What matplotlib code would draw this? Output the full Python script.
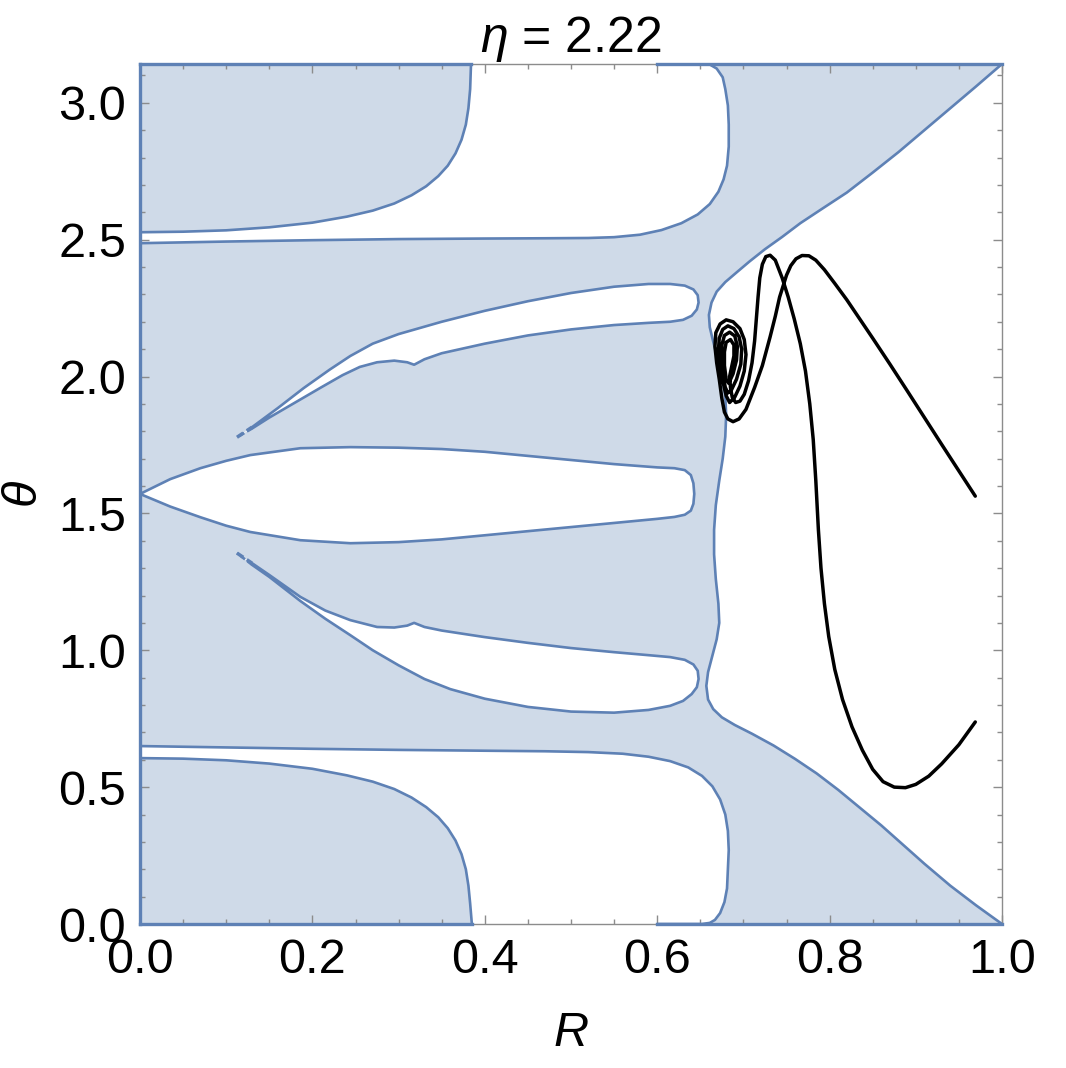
import numpy as np
import matplotlib
matplotlib.use("Agg")
import matplotlib.pyplot as plt

plt.rcParams["font.family"] = ["Liberation Sans", "DejaVu Sans"]
plt.rcParams["mathtext.fontset"] = "custom"
plt.rcParams["mathtext.rm"] = "Liberation Sans"
plt.rcParams["mathtext.it"] = "Liberation Sans:italic"

# --- region boundaries (R, theta) ---
# white band / pocket at the top
top_band_R = [0.0, 0.1, 0.2, 0.3, 0.4, 0.47, 0.52, 0.55, 0.58, 0.605, 0.628, 0.647, 0.661, 0.671, 0.677,
              0.681, 0.683, 0.683, 0.682, 0.679, 0.676, 0.669, 0.66]
top_band_T = [2.487, 2.493, 2.498, 2.502, 2.504, 2.505, 2.506, 2.509, 2.518, 2.535, 2.56, 2.592, 2.63, 2.675, 2.72,
              2.77, 2.84, 2.92, 2.99, 3.05, 3.093, 3.125, 3.1416]
top_corner_R = [0.0, 0.05, 0.10, 0.15, 0.20, 0.24, 0.27, 0.295, 0.315, 0.332, 0.346, 0.357, 0.366, 0.373, 0.378,
                0.381, 0.383, 0.384]
top_corner_T = [2.527, 2.529, 2.534, 2.545, 2.562, 2.584, 2.606, 2.632, 2.662, 2.695, 2.732, 2.77, 2.815, 2.865, 2.92,
                2.98, 3.05, 3.1416]

# white band / pocket at the bottom
bot_band_R = [0.0, 0.1, 0.2, 0.3, 0.4, 0.47, 0.52, 0.56, 0.59, 0.615, 0.636, 0.652, 0.664, 0.673, 0.679,
              0.682, 0.683, 0.682, 0.681, 0.678, 0.673, 0.667, 0.661, 0.652, 0.6]
bot_band_T = [0.650, 0.645, 0.640, 0.636, 0.633, 0.631, 0.628, 0.622, 0.611, 0.595, 0.572, 0.541, 0.503, 0.455, 0.40,
              0.34, 0.27, 0.20, 0.13, 0.08, 0.04, 0.015, 0.004, 0.0, 0.0]
bot_corner_R = [0.0, 0.05, 0.10, 0.15, 0.20, 0.24, 0.27, 0.295, 0.315, 0.332, 0.346, 0.357, 0.366, 0.373, 0.378,
                0.381, 0.383, 0.385]
bot_corner_T = [0.606, 0.604, 0.598, 0.586, 0.567, 0.543, 0.52, 0.493, 0.462, 0.427, 0.39, 0.35, 0.305, 0.255, 0.20,
                0.14, 0.075, 0.0]

# upper lens (closed loop, starts and ends at the left tip)
up_lens_R = [0.1125, 0.13, 0.16, 0.19, 0.22, 0.244, 0.27, 0.30, 0.35, 0.40, 0.45, 0.50, 0.55, 0.59, 0.615, 0.632,
             0.642, 0.647, 0.648, 0.646, 0.64, 0.63, 0.615,
             0.59, 0.55, 0.50, 0.45, 0.40, 0.35, 0.33, 0.318, 0.31, 0.295, 0.275, 0.255, 0.235, 0.21, 0.18, 0.15,
             0.13, 0.1125]
up_lens_T = [1.778, 1.815, 1.885, 1.958, 2.025, 2.075, 2.12, 2.155, 2.20, 2.24, 2.275, 2.305, 2.328, 2.338, 2.338, 2.332,
             2.318, 2.297, 2.27, 2.245, 2.222, 2.207, 2.20,
             2.196, 2.188, 2.172, 2.15, 2.12, 2.085, 2.063, 2.043, 2.052, 2.058, 2.052, 2.035, 2.005, 1.96, 1.905,
             1.85, 1.81, 1.778]

# centre lens (closed loop)
mid_lens_R = [0.0, 0.035, 0.07, 0.10, 0.128, 0.186, 0.244, 0.30, 0.35, 0.40, 0.45, 0.50, 0.55, 0.60, 0.62, 0.632,
              0.639, 0.642, 0.643, 0.642, 0.639, 0.632, 0.62, 0.60, 0.55, 0.50, 0.45, 0.40, 0.35, 0.30, 0.244,
              0.186, 0.128, 0.10, 0.07, 0.035, 0.0]
mid_lens_T = [1.571, 1.625, 1.665, 1.692, 1.713, 1.738, 1.742, 1.740, 1.735, 1.725, 1.710, 1.695, 1.680, 1.668, 1.665,
              1.658, 1.64, 1.61, 1.571, 1.535, 1.51, 1.495, 1.487, 1.480, 1.465, 1.450, 1.435, 1.420, 1.405, 1.395,
              1.391, 1.402, 1.432, 1.455, 1.486, 1.525, 1.571]

# lower lens (closed loop, starts and ends at the left tip)
lo_lens_R = [0.1125, 0.13, 0.15, 0.186, 0.215, 0.244, 0.275, 0.295, 0.31, 0.318, 0.33, 0.35, 0.40, 0.45, 0.50, 0.55,
             0.59, 0.615, 0.632, 0.642, 0.647, 0.648, 0.646, 0.64, 0.63, 0.615,
             0.59, 0.55, 0.50, 0.45, 0.40, 0.36, 0.33, 0.30, 0.27, 0.244, 0.215, 0.186, 0.15, 0.13, 0.1125]
lo_lens_T = [1.355, 1.318, 1.275, 1.195, 1.145, 1.11, 1.085, 1.083, 1.09, 1.10, 1.085, 1.072, 1.048, 1.027, 1.008, 0.993,
             0.982, 0.975, 0.965, 0.948, 0.925, 0.895, 0.865, 0.84, 0.815, 0.797,
             0.782, 0.772, 0.776, 0.793, 0.823, 0.858, 0.895, 0.945, 1.0, 1.055, 1.115, 1.18, 1.268, 1.312, 1.355]

# right hand white region: boundary from (1, pi) to (1, 0)
right_R = [1.0, 0.97, 0.94, 0.91, 0.88, 0.85, 0.82, 0.79, 0.766, 0.745, 0.725, 0.707, 0.692, 0.679, 0.669, 0.663,
           0.66, 0.661, 0.664, 0.668, 0.672, 0.676, 0.679, 0.68, 0.679, 0.676, 0.672, 0.668, 0.666, 0.666, 0.668,
           0.671, 0.672, 0.669, 0.664, 0.659, 0.657, 0.659, 0.665, 0.675, 0.69, 0.71, 0.735, 0.76, 0.785, 0.81,
           0.835, 0.86, 0.885, 0.91, 0.94, 0.97, 1.0]
right_T = [3.1416, 3.06, 2.98, 2.90, 2.82, 2.745, 2.672, 2.61, 2.56, 2.51, 2.465, 2.42, 2.38, 2.345, 2.31, 2.27,
           2.225, 2.18, 2.14, 2.09, 2.04, 1.99, 1.93, 1.86, 1.78, 1.70, 1.62, 1.53, 1.44, 1.35, 1.26,
           1.17, 1.10, 1.04, 0.98, 0.92, 0.87, 0.82, 0.785, 0.755, 0.727, 0.695, 0.652, 0.603, 0.55, 0.49,
           0.425, 0.36, 0.29, 0.22, 0.14, 0.068, 0.0]

# trajectory: right arch -> spiral by the wall -> left arch -> trough
traj_R = [0.969, 0.95, 0.93, 0.91, 0.89, 0.87, 0.85, 0.835, 0.82, 0.806, 0.794, 0.784, 0.776, 0.768, 0.761,
          0.755, 0.75, 0.746, 0.742, 0.737, 0.731, 0.722, 0.713, 0.703, 0.695, 0.688, 0.682, 0.678,
          0.675, 0.672, 0.669, 0.667, 0.668, 0.673, 0.68, 0.688, 0.696, 0.701, 0.703, 0.701, 0.696, 0.69, 0.684,
          0.68, 0.676, 0.673, 0.671, 0.672, 0.676, 0.682, 0.689, 0.695, 0.698, 0.697, 0.692, 0.686, 0.682,
          0.679, 0.676, 0.674, 0.675, 0.678, 0.684, 0.69, 0.693, 0.692, 0.688, 0.683,
          0.68, 0.678, 0.678, 0.68, 0.685, 0.689, 0.689, 0.686, 0.684,
          0.685, 0.687, 0.691, 0.696, 0.701, 0.706, 0.71, 0.713, 0.715, 0.717, 0.719, 0.722, 0.726, 0.731, 0.737,
          0.745, 0.752, 0.759, 0.766, 0.772, 0.777, 0.781, 0.784, 0.787, 0.79, 0.794, 0.799, 0.806, 0.815, 0.826,
          0.838, 0.85, 0.862, 0.875, 0.888, 0.9, 0.915, 0.93, 0.95, 0.969]
traj_T = [1.563, 1.655, 1.752, 1.85, 1.948, 2.045, 2.14, 2.21, 2.28, 2.34, 2.39, 2.425, 2.441, 2.442, 2.43,
          2.405, 2.37, 2.33, 2.29, 2.22, 2.145, 2.04, 1.96, 1.88, 1.845, 1.835, 1.845, 1.87,
          1.92, 1.99, 2.05, 2.11, 2.16, 2.192, 2.207, 2.2, 2.175, 2.135, 2.08, 2.02, 1.965, 1.925, 1.905,
          1.93, 1.985, 2.04, 2.095, 2.14, 2.172, 2.185, 2.175, 2.145, 2.10, 2.045, 1.99, 1.95, 1.94,
          1.96, 2.01, 2.065, 2.115, 2.15, 2.162, 2.148, 2.11, 2.06, 2.01, 1.975,
          1.99, 2.04, 2.09, 2.125, 2.135, 2.115, 2.075, 2.03, 2.0,
          1.96, 1.925, 1.905, 1.91, 1.935, 1.985, 2.05, 2.13, 2.21, 2.29, 2.36, 2.41, 2.438, 2.443, 2.425,
          2.36, 2.29, 2.21, 2.12, 2.02, 1.90, 1.77, 1.62, 1.44, 1.30, 1.17, 1.05, 0.93, 0.82, 0.72,
          0.635, 0.565, 0.52, 0.50, 0.498, 0.51, 0.54, 0.585, 0.655, 0.738]

fill_c = "#cfdae8"
edge_c = "#5e81b5"
pi = np.pi

fig = plt.figure(figsize=(10.66, 10.68), dpi=100)
ax = fig.add_axes([140 / 1066, 1 - 924 / 1068, 862 / 1066, 860 / 1068])
ax.set_xlim(0, 1)
ax.set_ylim(0, pi)
ax.set_facecolor(fill_c)

# white (excluded) regions
ax.fill(top_band_R + top_corner_R[::-1], top_band_T + top_corner_T[::-1], color="white", lw=0)
ax.fill(bot_band_R + bot_corner_R[::-1], bot_band_T + bot_corner_T[::-1], color="white", lw=0)
for rr, tt in [(up_lens_R, up_lens_T), (mid_lens_R, mid_lens_T), (lo_lens_R, lo_lens_T)]:
    ax.fill(rr, tt, color="white", lw=0)
ax.fill(right_R + [1.0], right_T + [pi], color="white", lw=0)

# boundaries
lw_b = 1.9
style = dict(color=edge_c, lw=lw_b, solid_joinstyle="round", solid_capstyle="round", zorder=3)
for rr, tt in [(top_band_R, top_band_T), (top_corner_R, top_corner_T), (bot_band_R, bot_band_T),
               (bot_corner_R, bot_corner_T), (mid_lens_R, mid_lens_T), (right_R, right_T)]:
    ax.plot(rr, tt, **style)
# the thin lenses: solid outline, broken near the left tip
for rr, tt in [(up_lens_R, up_lens_T), (lo_lens_R, lo_lens_T)]:
    ax.plot(rr[1:-1], tt[1:-1], **style)
    ax.plot(rr[:2], tt[:2], color=edge_c, lw=lw_b + 0.6, ls=(0, (2.2, 1.2)), zorder=3)
    ax.plot(rr[-2:], tt[-2:], color=edge_c, lw=lw_b, ls=(0, (2.2, 1.2)), zorder=3)

# edges of the shaded region along the plot frame
for xs, ys in [([0, 0], [0, pi]), ([0, 0.384], [pi, pi]), ([0.6, 1.0], [pi, pi]),
               ([0, 0.385], [0, 0]), ([0.6, 1.0], [0, 0])]:
    ax.plot(xs, ys, color=edge_c, lw=2.4, zorder=3, clip_on=False)

# trajectory
ax.plot(traj_R, traj_T, color="black", lw=2.5, zorder=4, solid_joinstyle="round", solid_capstyle="round")

# axes styling
for s in ax.spines.values():
    s.set_color("#8c8c8c")
    s.set_linewidth(1.0)
ax.set_xticks([0.0, 0.2, 0.4, 0.6, 0.8, 1.0])
ax.set_xticklabels(["0.0", "0.2", "0.4", "0.6", "0.8", "1.0"])
ax.set_xticks(np.arange(0, 1.0001, 0.05), minor=True)
ax.set_yticks([0.0, 0.5, 1.0, 1.5, 2.0, 2.5, 3.0])
ax.set_yticklabels(["0.0", "0.5", "1.0", "1.5", "2.0", "2.5", "3.0"])
ax.set_yticks(np.arange(0, 3.15, 0.1), minor=True)
ax.tick_params(which="both", direction="in", top=True, right=True, color="#8c8c8c",
               labelsize=35, width=1.0)
ax.tick_params(which="major", length=6.5, pad=10)
ax.tick_params(which="minor", length=3.5)

ax.set_xlabel("$R$", fontsize=35, labelpad=20)
ax.set_ylabel(r"$\theta$", fontsize=35, labelpad=8)
ax.set_title(r"$\eta$ = 2.22", fontsize=36, pad=6)

fig.savefig("out.png", dpi=100)
